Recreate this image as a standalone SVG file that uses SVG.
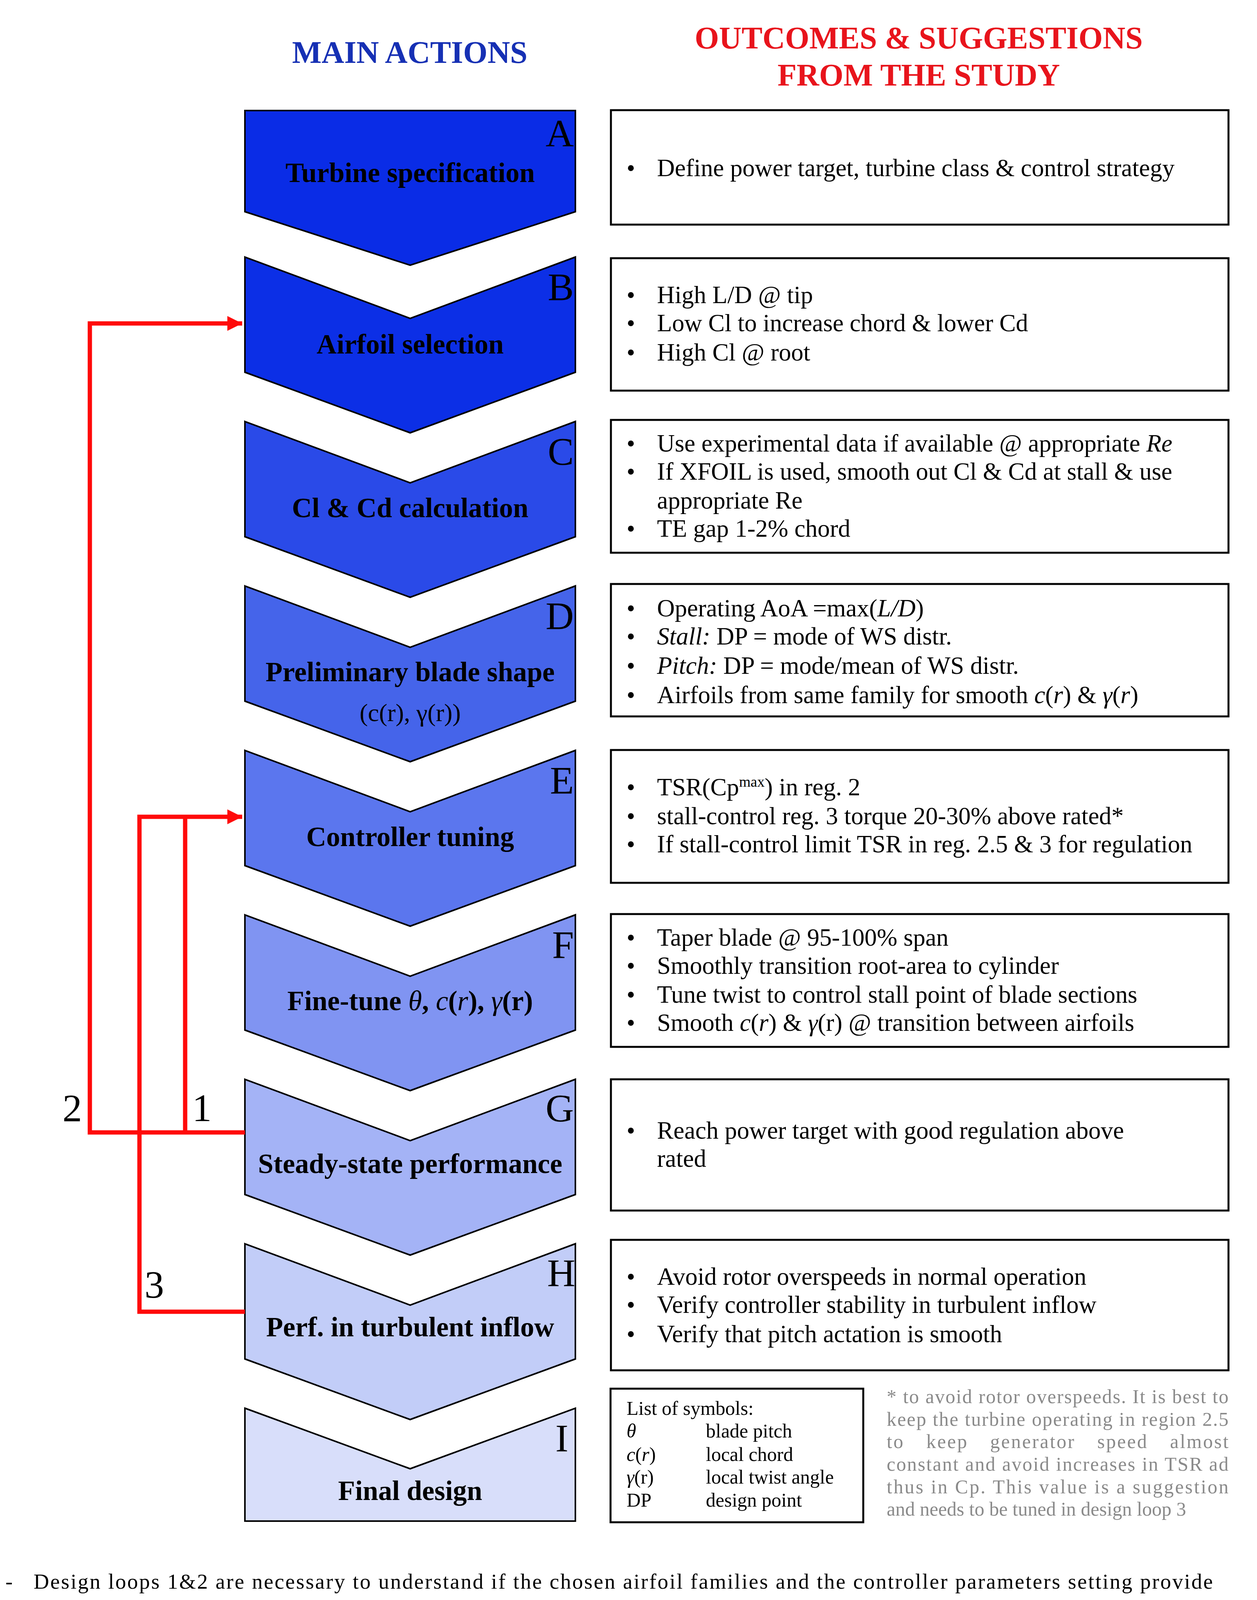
<svg xmlns="http://www.w3.org/2000/svg" width="3218" height="4507" viewBox="0 0 3218 4507">
<style>
.chev{stroke:#000;stroke-width:4}
.lbl{font-family:"Liberation Serif",serif;font-weight:bold;font-size:71px;text-anchor:middle;fill:#000}
.let{font-family:"Liberation Serif",serif;font-size:100px;text-anchor:end;fill:#000}
.box{fill:#fff;stroke:#000;stroke-width:5}
.t{font-family:"Liberation Serif",serif;font-size:63px;fill:#000}
.s{font-family:"Liberation Serif",serif;font-size:50px;fill:#000}
.n{font-family:"Liberation Serif",serif;font-size:50px;fill:#8a8a8a}
.p{font-family:"Liberation Serif",serif;font-size:55px;fill:#000}
.num{font-family:"Liberation Serif",serif;font-size:100px;fill:#000}
.red{fill:none;stroke:#ff0a0a;stroke-width:11}
</style>
<defs>
<marker id="ah" viewBox="0 0 10 10" refX="10" refY="5" markerWidth="3.5" markerHeight="3.5" orient="auto" markerUnits="strokeWidth">
<path d="M0,0 L10,5 L0,10 Z" fill="#ff0a0a"/>
</marker>
</defs>
<rect width="3218" height="4507" fill="#fff"/>
<text x="1049" y="161" font-family="Liberation Serif,serif" font-weight="bold" font-size="80" fill="#1630b4" text-anchor="middle">MAIN ACTIONS</text>
<text x="2352" y="124" font-family="Liberation Serif,serif" font-weight="bold" font-size="80" fill="#e8141c" text-anchor="middle">OUTCOMES &amp; SUGGESTIONS</text>
<text x="2352" y="219" font-family="Liberation Serif,serif" font-weight="bold" font-size="80" fill="#e8141c" text-anchor="middle">FROM THE STUDY</text>

<g id="nodeA"><path class="chev" fill="#0a2ce6" d="M627,283 L1473,283 L1473,542 L1050,679 L627,542 Z"/><text class="let" x="1469" y="375">A</text><text class="lbl" x="1050" y="466">Turbine specification</text></g>
<g id="nodeB"><path class="chev" fill="#0c2fe6" d="M627,658 L1050,815 L1473,658 L1473,953 L1050,1108 L627,953 Z"/><text class="let" x="1469" y="768">B</text><text class="lbl" x="1050" y="905">Airfoil selection</text></g>
<g id="nodeC"><path class="chev" fill="#2a4ae8" d="M627,1079 L1050,1236 L1473,1079 L1473,1374 L1050,1529 L627,1374 Z"/><text class="let" x="1469" y="1189">C</text><text class="lbl" x="1050" y="1324">Cl &amp; Cd calculation</text></g>
<g id="nodeD"><path class="chev" fill="#4564ea" d="M627,1500 L1050,1657 L1473,1500 L1473,1795 L1050,1950 L627,1795 Z"/><text class="let" x="1469" y="1610">D</text><text class="lbl" x="1050" y="1744">Preliminary blade shape</text><text x="1050" y="1846" font-family="Liberation Serif,serif" font-size="64" text-anchor="middle">(c(r), γ(r))</text></g>
<g id="nodeE"><path class="chev" fill="#5b76ee" d="M627,1921 L1050,2078 L1473,1921 L1473,2216 L1050,2371 L627,2216 Z"/><text class="let" x="1469" y="2031">E</text><text class="lbl" x="1050" y="2166">Controller tuning</text></g>
<g id="nodeF"><path class="chev" fill="#8094f2" d="M627,2342 L1050,2499 L1473,2342 L1473,2637 L1050,2792 L627,2637 Z"/><text class="let" x="1469" y="2452">F</text><text class="lbl" x="1050" y="2586">Fine-tune <tspan font-style="italic" font-weight="normal">θ</tspan>, <tspan font-style="italic" font-weight="normal">c</tspan>(<tspan font-style="italic" font-weight="normal">r</tspan>), <tspan font-style="italic" font-weight="normal">γ</tspan>(r)</text></g>
<g id="nodeG"><path class="chev" fill="#a4b3f6" d="M627,2763 L1050,2920 L1473,2763 L1473,3058 L1050,3213 L627,3058 Z"/><text class="let" x="1469" y="2870">G</text><text class="lbl" x="1050" y="3003">Steady-state performance</text></g>
<g id="nodeH"><path class="chev" fill="#c2cdf8" d="M627,3184 L1050,3341 L1473,3184 L1473,3479 L1050,3634 L627,3479 Z"/><text class="let" x="1473" y="3292">H</text><text class="lbl" x="1050" y="3421">Perf. in turbulent inflow</text></g>
<g id="nodeI"><path class="chev" fill="#d8defa" d="M627,3605 L1050,3760 L1473,3605 L1473,3894 L627,3894 Z"/><text class="let" x="1455" y="3715">I</text><text class="lbl" x="1050" y="3840">Final design</text></g>

<g id="connectors">
<polyline class="red" points="627,2899 230,2899 230,828 620,828" marker-end="url(#ah)"/>
<polyline class="red" points="474,2899 474,2091"/>
<polyline class="red" points="627,3358 357,3358 357,2091 620,2091" marker-end="url(#ah)"/>
<text class="num" x="160" y="2870">2</text>
<text class="num" x="492" y="2870">1</text>
<text class="num" x="370" y="3322">3</text>
</g>

<g id="boxA"><rect class="box" x="1564" y="282" width="1581" height="293"/>
<text class="t" x="1604" y="451">•</text><text class="t" x="1682" y="451">Define power target, turbine class &amp; control strategy</text></g>
<g id="boxB"><rect class="box" x="1564" y="661" width="1581" height="339"/>
<text class="t" x="1604" y="776">•</text><text class="t" x="1682" y="776">High L/D @ tip</text>
<text class="t" x="1604" y="848">•</text><text class="t" x="1682" y="848">Low Cl to increase chord &amp; lower Cd</text>
<text class="t" x="1604" y="923">•</text><text class="t" x="1682" y="923">High Cl @ root</text></g>
<g id="boxC"><rect class="box" x="1564" y="1075" width="1581" height="340"/>
<text class="t" x="1604" y="1156">•</text><text class="t" x="1682" y="1156">Use experimental data if available @ appropriate <tspan font-style="italic">Re</tspan></text>
<text class="t" x="1604" y="1228">•</text><text class="t" x="1682" y="1228">If XFOIL is used, smooth out Cl &amp; Cd at stall &amp; use</text>
<text class="t" x="1682" y="1302">appropriate Re</text>
<text class="t" x="1604" y="1374">•</text><text class="t" x="1682" y="1374">TE gap 1-2% chord</text></g>
<g id="boxD"><rect class="box" x="1564" y="1495" width="1581" height="339"/>
<text class="t" x="1604" y="1578">•</text><text class="t" x="1682" y="1578">Operating AoA =max(<tspan font-style="italic">L/D</tspan>)</text>
<text class="t" x="1604" y="1650">•</text><text class="t" x="1682" y="1650"><tspan font-style="italic">Stall:</tspan> DP = mode of WS distr.</text>
<text class="t" x="1604" y="1725">•</text><text class="t" x="1682" y="1725"><tspan font-style="italic">Pitch:</tspan> DP = mode/mean of WS distr.</text>
<text class="t" x="1604" y="1800">•</text><text class="t" x="1682" y="1800">Airfoils from same family for smooth <tspan font-style="italic">c</tspan>(<tspan font-style="italic">r</tspan>) &amp; <tspan font-style="italic">γ</tspan>(<tspan font-style="italic">r</tspan>)</text></g>
<g id="boxE"><rect class="box" x="1564" y="1920" width="1581" height="340"/>
<text class="t" x="1604" y="2036">•</text><text class="t" x="1682" y="2036">TSR(Cp<tspan font-size="38" dy="-22">max</tspan><tspan dy="22">) in reg. 2</tspan></text>
<text class="t" x="1604" y="2110">•</text><text class="t" x="1682" y="2110">stall-control reg. 3 torque 20-30% above rated*</text>
<text class="t" x="1604" y="2182">•</text><text class="t" x="1682" y="2182">If stall-control limit TSR in reg. 2.5 &amp; 3 for regulation</text></g>
<g id="boxF"><rect class="box" x="1564" y="2340" width="1581" height="340"/>
<text class="t" x="1604" y="2421">•</text><text class="t" x="1682" y="2421">Taper blade @ 95-100% span</text>
<text class="t" x="1604" y="2493">•</text><text class="t" x="1682" y="2493">Smoothly transition root-area to cylinder</text>
<text class="t" x="1604" y="2567">•</text><text class="t" x="1682" y="2567">Tune twist to control stall point of blade sections</text>
<text class="t" x="1604" y="2639">•</text><text class="t" x="1682" y="2639">Smooth <tspan font-style="italic">c</tspan>(<tspan font-style="italic">r</tspan>) &amp; <tspan font-style="italic">γ</tspan>(r) @ transition between airfoils</text></g>
<g id="boxG"><rect class="box" x="1564" y="2763" width="1581" height="336"/>
<text class="t" x="1604" y="2915">•</text><text class="t" x="1682" y="2915">Reach power target with good regulation above</text>
<text class="t" x="1682" y="2987">rated</text></g>
<g id="boxH"><rect class="box" x="1564" y="3174" width="1581" height="334"/>
<text class="t" x="1604" y="3289">•</text><text class="t" x="1682" y="3289">Avoid rotor overspeeds in normal operation</text>
<text class="t" x="1604" y="3361">•</text><text class="t" x="1682" y="3361">Verify controller stability in turbulent inflow</text>
<text class="t" x="1604" y="3436">•</text><text class="t" x="1682" y="3436">Verify that pitch actation is smooth</text></g>
<g id="symbols"><rect class="box" x="1563" y="3555" width="647" height="342"/>
<text class="s" x="1604" y="3622">List of symbols:</text>
<text class="s" x="1604" y="3680" font-style="italic">θ</text><text class="s" x="1807" y="3680">blade pitch</text>
<text class="s" x="1604" y="3740"><tspan font-style="italic">c</tspan>(<tspan font-style="italic">r</tspan>)</text><text class="s" x="1807" y="3740">local chord</text>
<text class="s" x="1604" y="3798"><tspan font-style="italic">γ</tspan>(r)</text><text class="s" x="1807" y="3798">local twist angle</text>
<text class="s" x="1604" y="3857">DP</text><text class="s" x="1807" y="3857">design point</text></g>
<g id="note">
<text class="n" x="2270" y="3592" textLength="875" lengthAdjust="spacing">* to avoid rotor overspeeds. It is best to</text>
<text class="n" x="2270" y="3650" textLength="875" lengthAdjust="spacing">keep the turbine operating in region 2.5</text>
<text class="n" x="2270" y="3707" textLength="875" lengthAdjust="spacing" word-spacing="40">to keep generator speed almost</text>
<text class="n" x="2270" y="3765" textLength="875" lengthAdjust="spacing">constant and avoid increases in TSR ad</text>
<text class="n" x="2270" y="3823" textLength="875" lengthAdjust="spacing">thus in Cp. This value is a suggestion</text>
<text class="n" x="2270" y="3880">and needs to be tuned in design loop 3</text>
</g>
<g id="footer">
<text class="p" x="14" y="4067">-</text>
<text class="p" x="86" y="4067" textLength="3019" lengthAdjust="spacing">Design loops 1&amp;2 are necessary to understand if the chosen airfoil families and the controller parameters setting provide</text>
<text class="p" x="86" y="4135" textLength="3019" lengthAdjust="spacing">satisfactory performance. In many cases satisfactory performance can be reached trough loop 1 and fine-tuning blade</text>
<text class="p" x="86" y="4199">shape in step F. If performance is still not satisfactory or stall regulation not as desired different airfoils must be chosen.</text>
<text class="p" x="14" y="4295">-</text>
<text class="p" x="86" y="4295" textLength="3019" lengthAdjust="spacing">The Final Design Loop allows for modifications to the ideal blade design in order to optimize the final aerodynamic</text>
<text class="p" x="86" y="4362" textLength="3019" lengthAdjust="spacing">performance. Trough steps E and F controller and blade can be fine-tuned in order to ensure good regulation and stability</text>
<text class="p" x="86" y="4430">in turbulent inflow.</text>
</g>
</svg>
